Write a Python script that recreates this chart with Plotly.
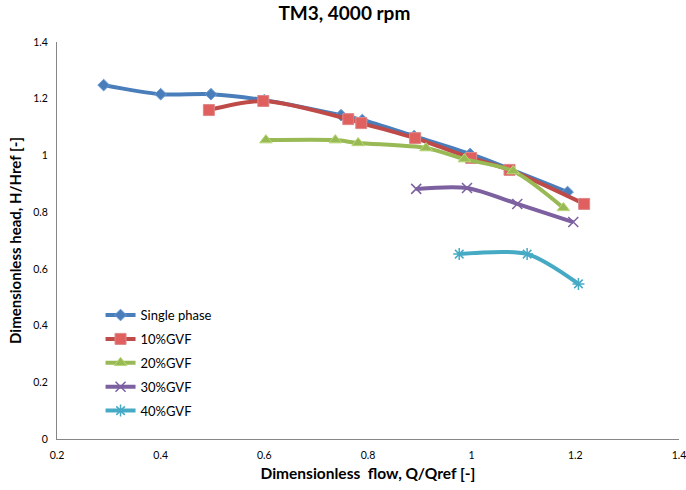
import plotly.graph_objects as go

single_x = [0.29, 0.40, 0.497, 0.60, 0.748, 0.789, 0.889, 0.997, 1.185]
single_y = [1.248, 1.216, 1.216, 1.195, 1.142, 1.125, 1.068, 1.005, 0.871]

gvf10_x = [0.493, 0.598, 0.762, 0.787, 0.891, 0.999, 1.073, 1.217]
gvf10_y = [1.160, 1.192, 1.128, 1.114, 1.061, 0.991, 0.949, 0.829]

gvf20_x = [0.603, 0.737, 0.781, 0.912, 0.986, 1.080, 1.177]
gvf20_y = [1.054, 1.054, 1.044, 1.026, 0.987, 0.945, 0.815]

gvf30_x = [0.893, 0.991, 1.088, 1.196]
gvf30_y = [0.882, 0.885, 0.829, 0.765]

gvf40_x = [0.976, 1.107, 1.206]
gvf40_y = [0.652, 0.652, 0.547]

series = [
    ("Single phase", single_x, single_y, "#4A7EBB", "diamond", 9),
    ("10%GVF", gvf10_x, gvf10_y, "#BE4B48", "square", 11),
    ("20%GVF", gvf20_x, gvf20_y, "#98B954", "triangle-up", 11),
    ("30%GVF", gvf30_x, gvf30_y, "#7D60A0", "x-thin", 10),
    ("40%GVF", gvf40_x, gvf40_y, "#46AAC5", "asterisk", 10),
]

fig = go.Figure()
for i, (name, xs, ys, col, sym, sz) in enumerate(series):
    mk = dict(symbol=sym, size=sz, color=col)
    if sym in ("x-thin", "asterisk"):
        mk["line"] = dict(color=col, width=1.5)
    elif sym == "square":
        mk["line"] = dict(color="#D88", width=1)
        mk["color"] = "#E06060"
    elif sym == "triangle-up":
        mk["line"] = dict(color="#B8D878", width=1)
    else:
        mk["line"] = dict(color="#6A9AD8", width=1)
    fig.add_trace(go.Scatter(
        x=xs, y=ys, name=name, mode="lines+markers",
        line=dict(color=col, width=4, shape="spline", smoothing=0.8),
        marker=mk, legendgroup=f"g{i}",
    ))

fig.update_layout(
    width=686, height=490,
    margin=dict(l=57, r=7, t=42, b=51, autoexpand=False),
    paper_bgcolor="white", plot_bgcolor="white",
    font=dict(family="Lato, Open Sans, sans-serif", color="black"),
    title=dict(text="<b>TM3, 4000 rpm</b>", x=0.502, xanchor="center",
               y=0.972, yanchor="middle", font=dict(size=19)),
    xaxis=dict(range=[0.2, 1.4], dtick=0.2, tick0=0.2, showgrid=False,
               zeroline=False, showline=True, linecolor="#868686", linewidth=1,
               ticks="", tickfont=dict(size=10.5), tickformat="~g",
               ticklabelstandoff=6, automargin=False,
               ticklabeloverflow="allow",
               title=dict(text="<b>Dimensionless&nbsp; flow, Q/Qref [-]</b>",
                          font=dict(size=15.5), standoff=8)),
    yaxis=dict(range=[0, 1.4], dtick=0.2, showgrid=False, zeroline=False,
               showline=True, linecolor="#868686", linewidth=1,
               ticks="", tickfont=dict(size=10.5), tickformat="~g",
               ticklabelstandoff=6, automargin=False,
               title=dict(text="<b>Dimensionless head, H/Href [-]</b>",
                          font=dict(size=15), standoff=7)),
    legend=dict(x=0.07, y=0.35, xanchor="left", yanchor="top",
                font=dict(size=13), bgcolor="rgba(0,0,0,0)",
                traceorder="grouped", tracegroupgap=4, itemwidth=30),
)

fig.write_html("out.html", config={"displayModeBar": False},
               post_script="document.body.style.margin='0';")
